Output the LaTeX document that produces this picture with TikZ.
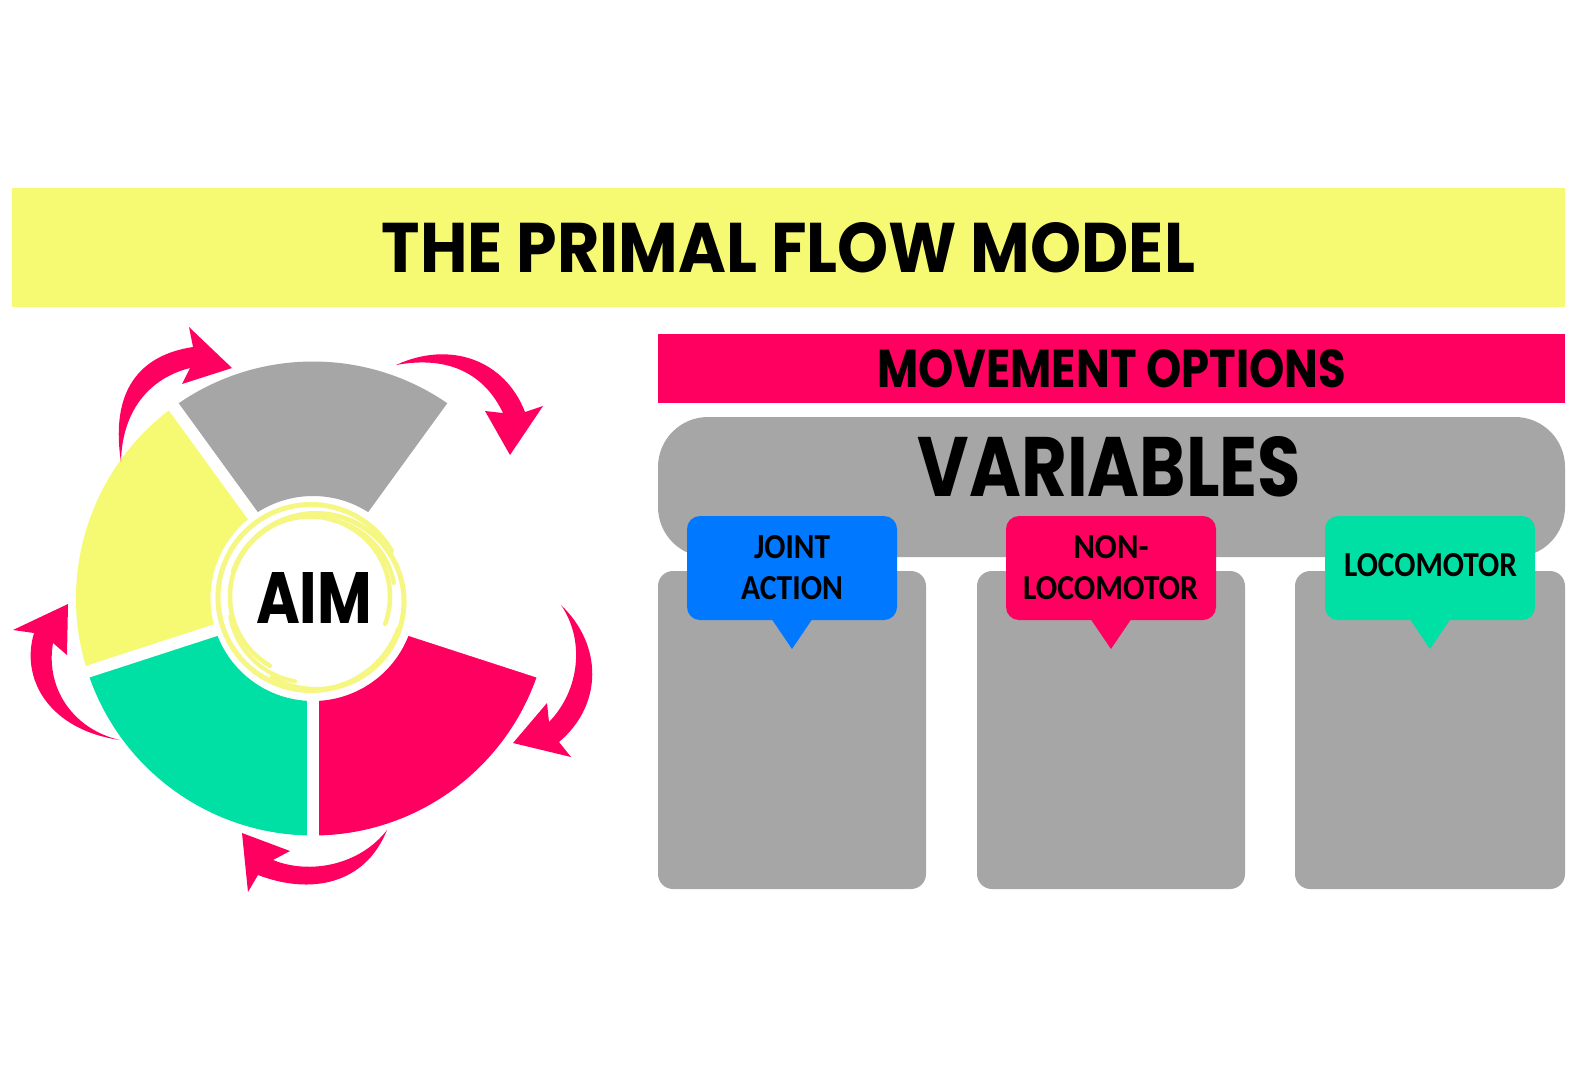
\documentclass[tikz,border=0pt]{standalone}
\usepackage{fontspec}
\usepackage{graphicx}
\newfontfamily\headfont{Poppins}
\newfontfamily\calfont{Carlito}
\definecolor{titleyel}{RGB}{246,250,115}
\definecolor{scribyel}{RGB}{246,246,130}
\definecolor{magc}{RGB}{255,0,96}
\definecolor{grayc}{RGB}{166,166,166}
\definecolor{tealc}{RGB}{0,224,164}
\definecolor{bluec}{RGB}{0,120,255}
\newcommand\fitbox[3]{\resizebox{#1pt}{#2pt}{#3}}
\tikzset{
  txt/.style={inner sep=0pt, outer sep=0pt, text=black, anchor=center},
  column/.style={fill=grayc, rounded corners=15pt},
  bubble/.style={rounded corners=13pt},
  sep/.style={draw=white, line width=12pt},
  scrib/.style={draw=scribyel, line width=5pt, line cap=round},
  curvarrow/.style={fill=magc}
}
\begin{document}
\begin{tikzpicture}[x=1pt,y=-1pt]
\path[use as bounding box, fill=white] (0,0) rectangle (1577,1080);

% ---------- title bar ----------
\fill[titleyel] (12,188) rectangle (1565,307);
\node[txt] (title) at (788.5,248) {\fitbox{813}{50}{\headfont\bfseries THE PRIMAL FLOW MODEL}};

% ---------- movement options ----------
\fill[magc] (658,334) rectangle (1565,403);
\node[txt] (movopt) at (1111.5,369) {\fitbox{469}{38}{\headfont\bfseries MOVEMENT OPTIONS}};

% ---------- variables ----------
\fill[grayc, rounded corners=50pt] (658,417) rectangle (1565,557);
\node[txt] (variables) at (1109.5,467) {\fitbox{383}{60}{\headfont\bfseries VARIABLES}};

% ---------- columns ----------
\fill[column] (658,571) rectangle (926,889);
\fill[column] (977,571) rectangle (1245,889);
\fill[column] (1295,571) rectangle (1565,889);

% ---------- callouts ----------
\fill[bluec, bubble] (687,516) rectangle (897,620);
\fill[bluec] (771,618) -- (813,618) -- (792,649) -- cycle;
\fill[magc, bubble] (1006,516) rectangle (1216,620);
\fill[magc] (1090,618) -- (1132,618) -- (1111,649) -- cycle;
\fill[tealc, bubble] (1325,516) rectangle (1535,620);
\fill[tealc] (1409,618) -- (1451,618) -- (1430,649) -- cycle;

\node[txt] (joint) at (792,547.5) {\fitbox{76}{23}{\calfont\bfseries JOINT}};
\node[txt] (action) at (792,588.5) {\fitbox{102}{23}{\calfont\bfseries ACTION}};
\node[txt] (non) at (1111,547.5) {\fitbox{75}{23}{\calfont\bfseries NON-}};
\node[txt] (loco1) at (1110.5,588.5) {\fitbox{175}{23}{\calfont\bfseries LOCOMOTOR}};
\node[txt] (loco2) at (1430.5,565.5) {\fitbox{173}{23}{\calfont\bfseries LOCOMOTOR}};

% ---------- wheel ----------
\begin{scope}[shift={(313,598.5)}]
\fill[grayc] (-54:237) arc[start angle=-54,end angle=-126,radius=237] -- (-126:102.5) arc[start angle=-126,end angle=-54,radius=102.5] -- cycle;
\fill[titleyel] (-126:237) arc[start angle=-126,end angle=-198,radius=237] -- (-198:102.5) arc[start angle=-198,end angle=-126,radius=102.5] -- cycle;
\fill[tealc] (-198:237) arc[start angle=-198,end angle=-270,radius=237] -- (-270:102.5) arc[start angle=-270,end angle=-198,radius=102.5] -- cycle;
\fill[magc] (-270:237) arc[start angle=-270,end angle=-342,radius=237] -- (-342:102.5) arc[start angle=-342,end angle=-270,radius=102.5] -- cycle;
\foreach \a in {-54,-126,-198,-270,-342} \draw[sep] (0,0) -- (\a:245);
\fill[white] (0,0) circle[radius=100];
% scribble rings
\draw[scrib] (-2,-1) ++(20:93) arc[start angle=20,end angle=330,radius=93];
\draw[scrib] (3,3) ++(200:88) arc[start angle=200,end angle=480,radius=88];
\draw[scrib, line width=4.5pt] (-3,-2) ++(120:80) arc[start angle=120,end angle=380,radius=80];
\draw[scrib, line width=4pt] (4,-2) ++(-80:78) arc[start angle=-80,end angle=-10,radius=78];
\draw[scrib, line width=4pt] (-4,4) ++(100:80) arc[start angle=100,end angle=170,radius=80];
\end{scope}
\node[txt] (aim) at (314,597.5) {\fitbox{116}{51}{\headfont\bfseries AIM}};

% ---------- curved arrows ----------
\fill[curvarrow] (121,462) .. controls (110,390) and (140,355) .. (193,347)
  -- (189,327) -- (232,368) -- (182,384) -- (190,368)
  .. controls (150,378) and (122,410) .. (121,462) -- cycle;
\fill[curvarrow] (396,365) .. controls (450,340) and (505,360) .. (525,412)
  -- (543,406) -- (510,455) -- (485,411) -- (503,413)
  .. controls (485,375) and (450,355) .. (396,365) -- cycle;
\fill[curvarrow] (561,605) .. controls (603,645) and (603,705) .. (559,742)
  -- (571,757) -- (513,743) -- (547,703) -- (549,722)
  .. controls (580,690) and (585,640) .. (561,605) -- cycle;
\fill[curvarrow] (387,830) .. controls (365,885) and (310,895) .. (258,875)
  -- (248,892) -- (242,833) -- (290,851) -- (273,860)
  .. controls (310,875) and (360,865) .. (387,830) -- cycle;
\fill[curvarrow] (120,740) .. controls (50,730) and (20,680) .. (34,633)
  -- (13,630) -- (68,604) -- (67,655) -- (53,643)
  .. controls (45,690) and (75,730) .. (120,740) -- cycle;
\end{tikzpicture}
\end{document}
